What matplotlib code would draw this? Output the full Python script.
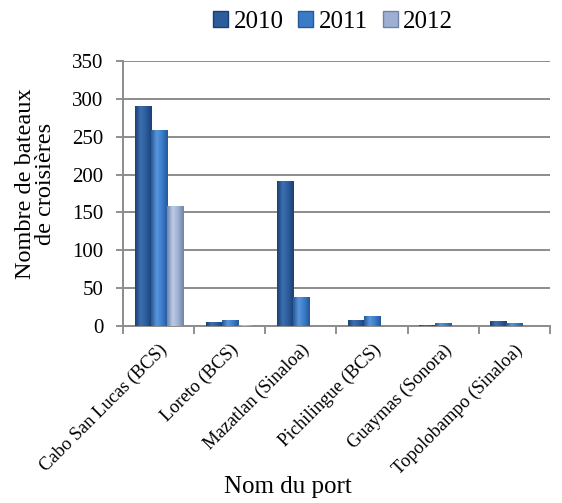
import matplotlib
matplotlib.use("Agg")
import matplotlib.pyplot as plt
import numpy as np
from matplotlib.colors import LinearSegmentedColormap
from matplotlib.patches import Patch

plt.rcParams['font.family'] = ['Liberation Serif', 'DejaVu Serif']

ports = ["Cabo San Lucas (BCS)", "Loreto (BCS)", "Mazatlan (Sinaloa)",
         "Pichilingue (BCS)", "Guaymas (Sonora)", "Topolobampo (Sinaloa)"]
years = ["2010", "2011", "2012"]
v2010 = [291, 5, 192, 8, 1, 6]
v2011 = [259, 8, 38, 13, 4, 4]
v2012 = [159, 1, 0, 0, 0, 0]
yticks = [0, 50, 100, 150, 200, 250, 300, 350]

series = [v2010, v2011, v2012]
base_colors = ["#2B5C9C", "#3A7BC8", "#9EB0D2"]
dark_colors = ["#1C3F70", "#24589A", "#6F83A8"]
light_colors = ["#3C6FB2", "#5A96DA", "#BCCBE6"]

W, H = 562, 503
fig = plt.figure(figsize=(W / 100, H / 100), dpi=100)
ax_l, ax_r, ax_t, ax_b = 123, 550, 61, 326
ax = fig.add_axes([ax_l / W, 1 - ax_b / H, (ax_r - ax_l) / W, (ax_b - ax_t) / H])

n = len(ports)
x = np.arange(n)
bw = 0.225
offsets = [-bw, 0, bw]

for s, (vals, col, dk, lt) in enumerate(zip(series, base_colors, dark_colors, light_colors)):
    bars = ax.bar(x + offsets[s], vals, width=bw, color=col, edgecolor='none', zorder=3)
    cmap = LinearSegmentedColormap.from_list("g%d" % s, [dk, lt, col, dk])
    grad = np.linspace(0, 1, 64).reshape(1, -1)
    for b in bars:
        h = b.get_height()
        if h <= 0:
            continue
        x0 = b.get_x()
        im = ax.imshow(grad, cmap=cmap, aspect='auto',
                       extent=[x0, x0 + b.get_width(), 0, h], zorder=3.5,
                       interpolation='bicubic')
        im.set_clip_path(b)

ax.set_xlim(-0.5, 5.3)
ax.set_ylim(0, 350)
ax.set_yticks(yticks)
ax.set_yticklabels([str(t) for t in yticks], fontsize=15)

ax.set_xticks(np.arange(n + 1) - 0.5)
ax.set_xticklabels([])
ax.set_xticks(x, minor=True)
ax.set_xticklabels(ports, minor=True, rotation=45, ha='right', va='top',
                   rotation_mode='anchor', fontsize=13.3)
ax.tick_params(axis='x', which='minor', length=0, pad=11)
ax.tick_params(axis='x', which='major', length=6, color='#888888', width=1.3, direction='out')
ax.tick_params(axis='y', length=5, color='#888888', width=1.3, direction='out', pad=9)

ax.yaxis.grid(True, color='#8C8C8C', linewidth=1.4, zorder=0)
ax.set_axisbelow(True)
for sp in ['top', 'right']:
    ax.spines[sp].set_visible(False)
for sp in ['left', 'bottom']:
    ax.spines[sp].set_color('#8C8C8C')
    ax.spines[sp].set_linewidth(1.4)

ax_w, ax_h = ax_r - ax_l, ax_b - ax_t
ax.set_ylabel("Nombre de bateaux\nde croisières", fontsize=17.5, linespacing=0.92)
ax.yaxis.set_label_coords((56 - ax_l) / ax_w, (ax_b - 184) / ax_h)
ax.set_xlabel("Nom du port", fontsize=18, va='top')
ax.xaxis.set_label_coords((288 - ax_l) / ax_w, -(476 - ax_b) / ax_h)

handles = [Patch(facecolor=c, edgecolor=d) for c, d in zip(base_colors, dark_colors)]
fig.legend(handles, years, loc='center', bbox_to_anchor=(333 / W, 1 - 22 / H), ncol=3,
           frameon=False, fontsize=18, handlelength=0.6, handleheight=0.6,
           handletextpad=0.2, columnspacing=0.6, borderpad=0.2)

fig.savefig("out.png", dpi=100)
